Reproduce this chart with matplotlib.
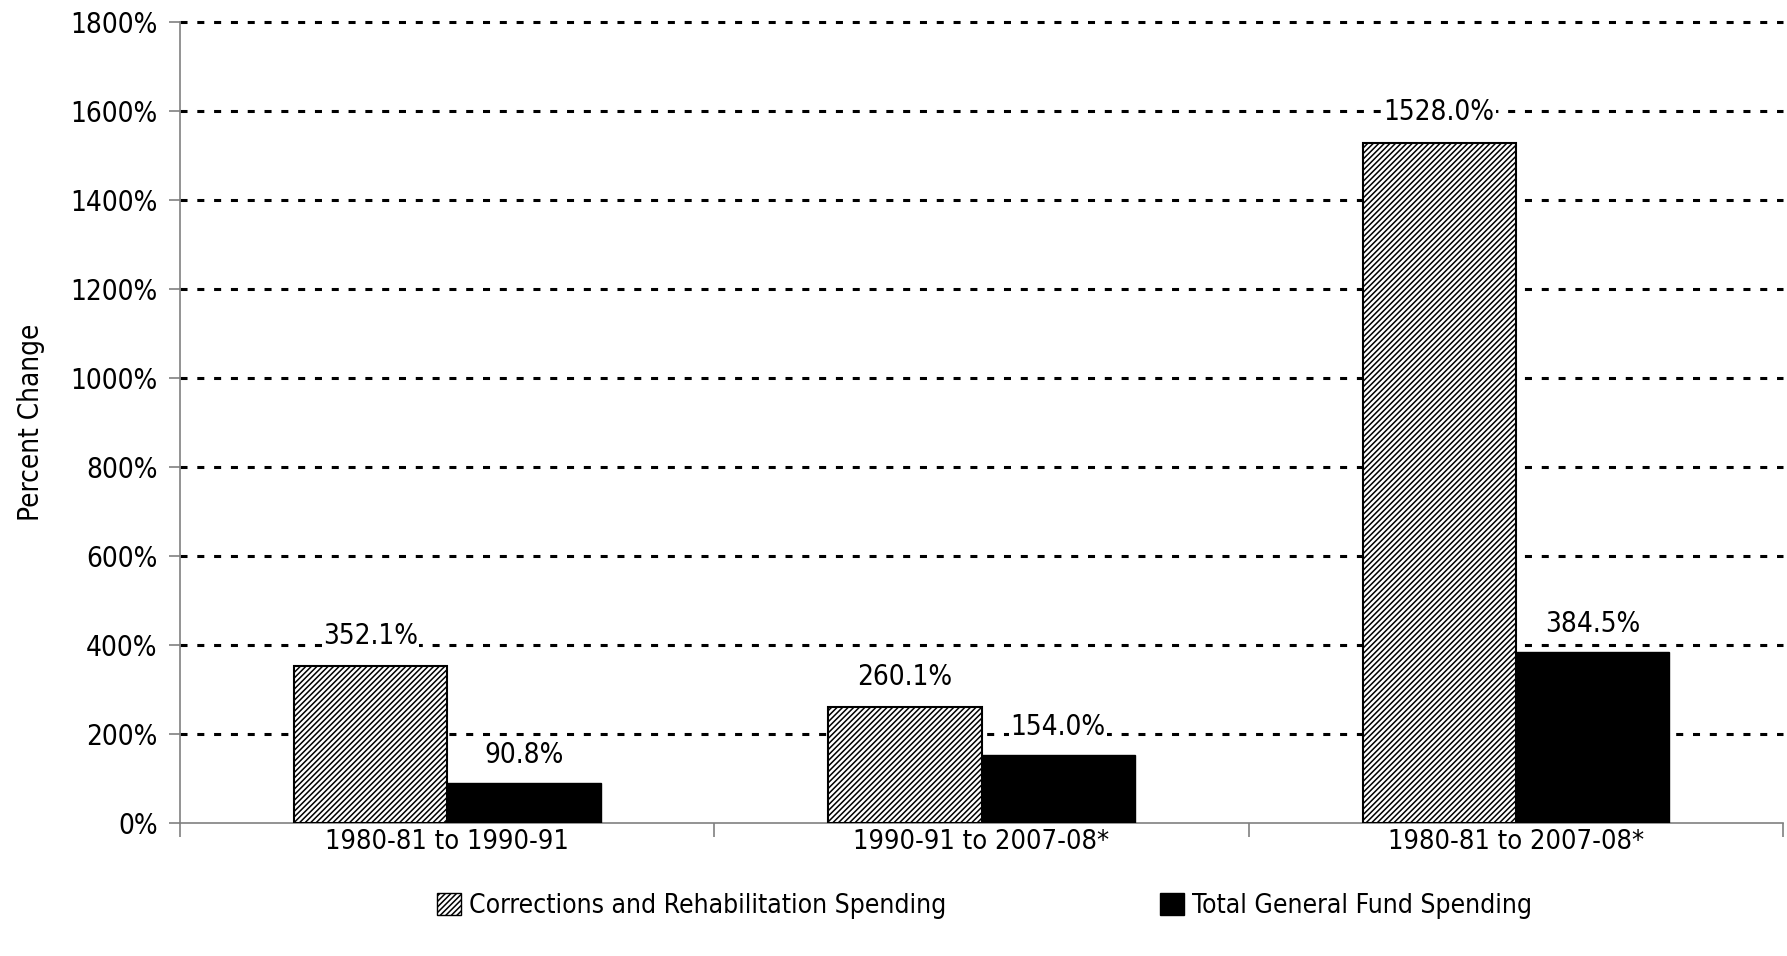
import numpy as np
import matplotlib
matplotlib.use("Agg")
import matplotlib.pyplot as plt
from matplotlib.patches import Patch

plt.rcParams["font.family"] = ["DejaVu Sans"]
plt.rcParams["font.stretch"] = "condensed"
plt.rcParams["hatch.linewidth"] = 1.1

# data
periods = ["1980-81 to 1990-91", "1990-91 to 2007-08*", "1980-81 to 2007-08*"]
corrections = [352.1, 260.1, 1528.0]
general_fund = [90.8, 154.0, 384.5]
series_names = ["Corrections and Rehabilitation Spending", "Total General Fund Spending"]
yticks = [0, 200, 400, 600, 800, 1000, 1200, 1400, 1600, 1800]

fig = plt.figure(figsize=(17.87, 9.56), dpi=100)
ax = fig.add_axes([0.1007, 0.139, 0.8971, 0.838])

x = np.arange(len(periods)) + 0.5
w = 0.287

ax.bar(x - w / 2, corrections, w, color="white", edgecolor="black", hatch="//////",
       linewidth=1.5, zorder=3)
ax.bar(x + w / 2, general_fund, w, color="black", edgecolor="black", linewidth=1, zorder=3)

# value labels
for xi, v in zip(x - w / 2, corrections):
    ax.annotate("{:.1f}%".format(v), (xi, v), xytext=(0, 12), textcoords="offset points",
                ha="center", va="bottom", fontsize=20, zorder=4,
                bbox=dict(facecolor="white", edgecolor="none", pad=1))
for xi, v in zip(x + w / 2, general_fund):
    ax.annotate("{:.1f}%".format(v), (xi, v), xytext=(0, 10), textcoords="offset points",
                ha="center", va="bottom", fontsize=20, zorder=4,
                bbox=dict(facecolor="white", edgecolor="none", pad=1))

ax.set_xlim(0, 3)
ax.set_ylim(0, 1800)
ax.set_yticks(yticks)
ax.set_yticklabels(["{}%".format(t) for t in yticks], fontsize=20)
ax.set_ylabel("Percent Change", fontsize=20)
ax.yaxis.set_label_coords(-0.084, 0.5)

# category boundaries as ticks, labels in the middle
ax.set_xticks([0, 1, 2, 3])
ax.set_xticklabels([])
ax.set_xticks(x, minor=True)
ax.set_xticklabels(periods, minor=True, fontsize=19.5)
ax.tick_params(axis="x", which="minor", length=0, pad=4)
ax.tick_params(axis="x", which="major", length=10, color="#808080", width=1.2)
ax.tick_params(axis="y", length=8, color="#808080", width=1.2, pad=8)

for t in yticks[1:]:
    ax.axhline(t, color="black", linewidth=2.2, dashes=(2.3, 3.2), zorder=1, clip_on=False)

for s in ["top", "right"]:
    ax.spines[s].set_visible(False)
for s in ["left", "bottom"]:
    ax.spines[s].set_color("#808080")
    ax.spines[s].set_linewidth(1.2)

handles = [Patch(facecolor="white", edgecolor="black", hatch="//////", linewidth=1),
           Patch(facecolor="black", edgecolor="black")]
fig.legend(handles, series_names, loc="center", bbox_to_anchor=(0.551, 0.052), ncol=2,
           frameon=False, fontsize=19, handlelength=0.9, handleheight=0.9,
           handletextpad=0.3, columnspacing=8.1)

fig.savefig("out.png", dpi=100)
